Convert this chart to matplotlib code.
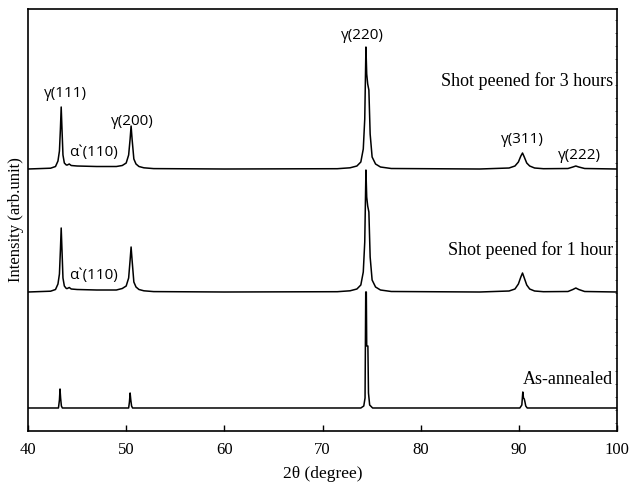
import matplotlib
matplotlib.use('Agg')
import matplotlib.pyplot as plt

# traced points of each pattern: 2theta (deg) and intensity above its own baseline (arb.)
tt_3h = [40.0, 42.3, 42.8, 43.05, 43.2, 43.3, 43.38, 43.46, 43.56, 43.7, 43.9, 44.0, 44.2, 44.4,
         45.0, 47.0, 49.0, 49.6, 50.0, 50.25, 50.4, 50.5, 50.6, 50.78, 51.0, 51.3, 51.8, 52.8,
         60.0, 71.5, 72.8, 73.5, 73.9, 74.15, 74.3, 74.42, 74.5, 74.6, 74.72, 74.85, 75.05, 75.4,
         75.9, 77.0, 86.0, 89.0, 89.6, 89.95, 90.2, 90.37, 90.55, 90.8, 91.1, 91.6, 92.5,
         95.0, 95.5, 95.8, 96.1, 96.7, 100.0]
int_3h = [0, 0.8, 2.5, 8, 18, 40, 62, 40, 14, 6, 4, 4, 5, 3.5,
          3, 2.5, 2.5, 3.5, 6, 14, 30, 43, 30, 10, 5, 2.5, 1.2, 0.4,
          0, 0.3, 1.2, 3, 7, 20, 50, 122, 95, 85, 79, 35, 12, 5,
          2, 0.5, 0, 1, 3, 7, 13, 16, 12, 6, 3, 1, 0.3,
          0.5, 2, 3, 2, 0.5, 0]

tt_1h = [40.0, 42.3, 42.8, 43.05, 43.2, 43.3, 43.38, 43.46, 43.56, 43.7, 43.9, 44.0, 44.2, 44.4,
         45.0, 47.0, 49.0, 49.6, 50.0, 50.25, 50.4, 50.5, 50.6, 50.78, 51.0, 51.3, 51.8, 52.8,
         60.0, 71.5, 72.8, 73.5, 73.9, 74.15, 74.3, 74.42, 74.5, 74.6, 74.72, 74.85, 75.05, 75.4,
         75.9, 77.0, 86.0, 89.0, 89.6, 89.95, 90.2, 90.37, 90.55, 90.8, 91.1, 91.6, 92.5,
         95.0, 95.5, 95.8, 96.1, 96.7, 100.0]
int_1h = [0, 0.8, 2.5, 8, 18, 42, 64, 42, 14, 6, 3.5, 3.5, 4.5, 3,
          2.5, 2, 2, 3.5, 6, 14, 32, 45, 32, 10, 5, 2.5, 1.2, 0.4,
          0, 0.3, 1.2, 3, 7, 20, 50, 122, 95, 86, 80, 35, 12, 5,
          2, 0.5, 0, 1, 3, 8, 15, 19, 14, 7, 3, 1, 0.3,
          0.5, 2.5, 4, 2.5, 0.5, 0]

tt_ann = [40.0, 43.1, 43.2, 43.26, 43.32, 43.4, 43.5, 50.25, 50.33, 50.4, 50.47, 50.55, 50.65,
          73.9, 74.2, 74.33, 74.4, 74.46, 74.5, 74.62, 74.68, 74.8, 75.1,
          90.1, 90.3, 90.4, 90.47, 90.55, 90.62, 90.7, 90.85, 100.0]
int_ann = [0, 0, 8, 19, 10, 2, 0, 0, 6, 15, 8, 2, 0,
           0, 2, 10, 116, 116, 62, 62, 15, 3, 0,
           0, 3, 16, 10, 9, 6, 2, 0, 0]

offsets = [262, 139, 23]
xticks = [40, 50, 60, 70, 80, 90, 100]

fig = plt.figure(figsize=(6.31, 4.87), dpi=100)
ax = fig.add_axes([0.0444, 0.115, 0.9335, 0.8665])

for tt, inten, off in zip([tt_3h, tt_1h, tt_ann], [int_3h, int_1h, int_ann], offsets):
    ax.plot(tt, [v + off for v in inten], color='black', lw=1.1)

ax.set_xlim(40, 100)
ax.set_ylim(0, 422)
ax.set_xticks(xticks)
ax.set_yticks(range(8, 422, 13))
ax.tick_params(axis='x', direction='in', length=4, width=1, labelsize=12, pad=8)
ax.tick_params(axis='y', direction='in', length=1.5, width=0.6, left=False, right=True,
               labelleft=False, colors='#444444')
for lab in ax.get_xticklabels():
    lab.set_family('Liberation Serif')
for sp in ax.spines.values():
    sp.set_linewidth(1.2)

ax.set_xlabel('2θ (degree)', family='Liberation Serif', fontsize=12.5, labelpad=6)
ax.set_ylabel('Intensity (arb.unit)', family='Liberation Serif', fontsize=12, labelpad=3)

peak_font = dict(family=['Open Sans', 'DejaVu Sans'], fontsize=11, ha='center', va='center')
ax.text(43.77, 338, 'γ(111)', **peak_font)
ax.text(50.6, 310, 'γ(200)', **peak_font)
ax.text(74.1, 396, 'γ(220)', **peak_font)
ax.text(90.4, 292, 'γ(311)', **peak_font)
ax.text(96.2, 276, 'γ(222)', **peak_font)
ax.text(46.7, 279, 'α`(110)', **peak_font)
ax.text(46.7, 156, 'α`(110)', **peak_font)

cap_font = dict(family='Liberation Serif', fontsize=13, ha='right', va='center')
ax.text(99.6, 350, 'Shot peened for 3 hours', **cap_font)
ax.text(99.6, 181, 'Shot peened for 1 hour', **cap_font)
ax.text(99.6, 51, 'As-annealed', **cap_font)

fig.savefig('out.png', dpi=100)
